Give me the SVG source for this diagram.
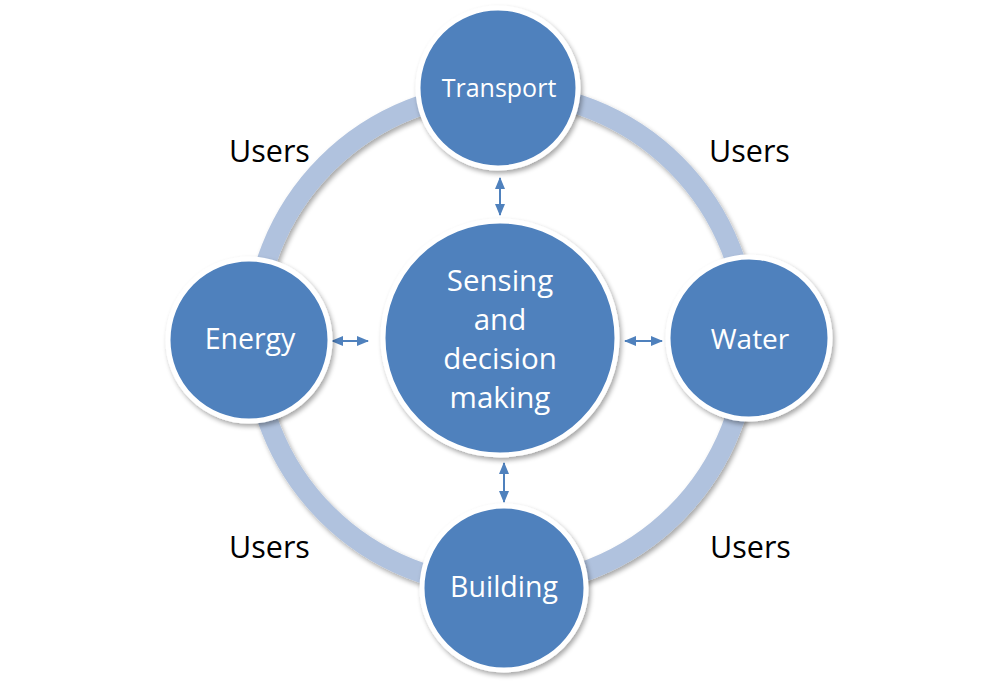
<svg xmlns="http://www.w3.org/2000/svg" width="1000" height="683" viewBox="0 0 1000 683">
<defs>
<filter id="sh" x="-20%" y="-20%" width="140%" height="140%">
<feGaussianBlur in="SourceAlpha" stdDeviation="2.5"/>
<feOffset dx="1.5" dy="2.5" result="b"/>
<feComponentTransfer><feFuncA type="linear" slope="0.35"/></feComponentTransfer>
<feMerge><feMergeNode/><feMergeNode in="SourceGraphic"/></feMerge>
</filter>
<marker id="ah" viewBox="0 0 12 10" refX="11" refY="5" markerWidth="6" markerHeight="5" orient="auto-start-reverse" markerUnits="strokeWidth">
<path d="M0,0 L12,5 L0,10 Z" fill="#4F81BD"/>
</marker>
</defs>
<style>
.node{fill:#4F81BD;stroke:#FFFFFF;stroke-width:5;filter:url(#sh)}
.lbl{font-family:"Open Sans","Liberation Sans",sans-serif;fill:#FFFFFF;text-anchor:middle}
.users{font-family:"Open Sans","Liberation Sans",sans-serif;fill:#000000;font-size:30.5px}
.conn{stroke:#4F81BD;stroke-width:2;fill:none;marker-start:url(#ah);marker-end:url(#ah)}
</style>
<rect width="1000" height="683" fill="#FFFFFF"/>
<g id="ring">
<circle cx="501" cy="339" r="247" fill="none" stroke="#B0C2DE" stroke-width="20" filter="url(#sh)"/>
</g>
<g id="connectors">
<line class="conn" x1="500" y1="178" x2="500" y2="215"/>
<line class="conn" x1="332" y1="341" x2="368" y2="341"/>
<line class="conn" x1="625" y1="341" x2="662" y2="341"/>
<line class="conn" x1="504" y1="463" x2="504" y2="502"/>
</g>
<g id="center">
<circle class="node" cx="500" cy="338" r="117"/>
<text class="lbl" font-size="29.5" x="500" y="291">Sensing</text>
<text class="lbl" font-size="29.5" x="500" y="330">and</text>
<text class="lbl" font-size="29.5" x="500" y="369">decision</text>
<text class="lbl" font-size="29.5" x="500" y="408">making</text>
</g>
<g id="transport">
<circle class="node" cx="498" cy="88" r="80"/>
<text class="lbl" font-size="25" x="499" y="97">Transport</text>
</g>
<g id="energy">
<circle class="node" cx="249" cy="340" r="81"/>
<text class="lbl" font-size="28.5" x="250" y="349">Energy</text>
</g>
<g id="water">
<circle class="node" cx="749" cy="338" r="81"/>
<text class="lbl" font-size="28" x="750" y="349">Water</text>
</g>
<g id="building">
<circle class="node" cx="504" cy="588" r="82"/>
<text class="lbl" font-size="28.5" x="504" y="597">Building</text>
</g>
<g id="users-labels">
<text class="users" x="229" y="162">Users</text>
<text class="users" x="709" y="162">Users</text>
<text class="users" x="229" y="558">Users</text>
<text class="users" x="710" y="558">Users</text>
</g>
</svg>
